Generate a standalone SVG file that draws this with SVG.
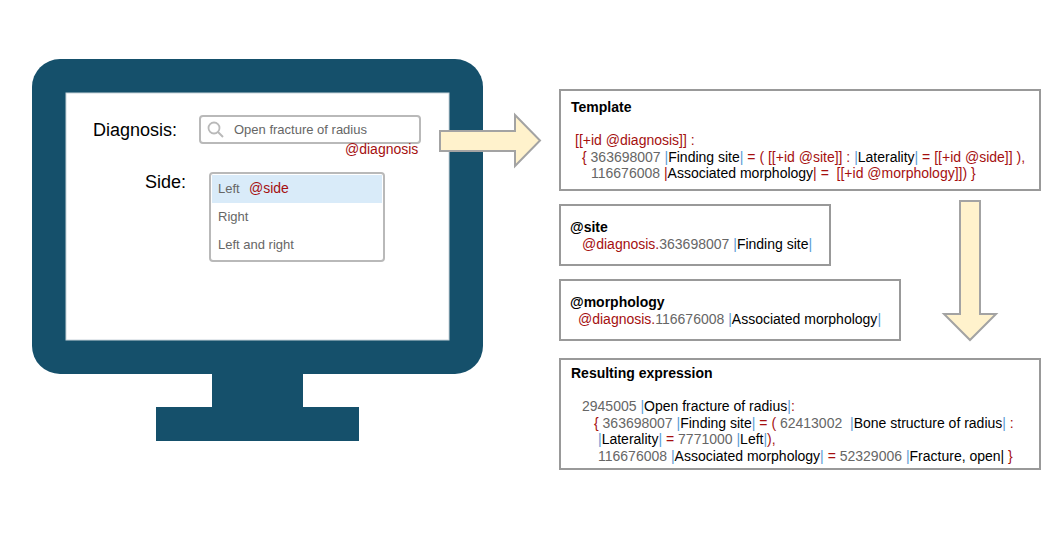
<svg xmlns="http://www.w3.org/2000/svg" width="1060" height="540" viewBox="0 0 1060 540">
<style>
text{font-family:"Liberation Sans",Arial,sans-serif;white-space:pre}
.box{fill:#fff;stroke:#999;stroke-width:2}
.arrow{fill:#fff2cc;stroke:#a3a3a3;stroke-width:2}
.t{font-size:14px;fill:#000}
.h{font-size:14px;font-weight:bold;fill:#000}
.r{fill:#a50f0f}
.g{fill:#666}
.b{fill:#5b9bd5}
.k{fill:#000}
.ui{font-size:13px;fill:#666}
.lab{font-size:18px;fill:#000}
.mon{fill:#15506b}
</style>
<rect width="1060" height="540" fill="#fff"/>
<g id="monitor">
<rect class="mon" x="212" y="370" width="91" height="40"/>
<rect class="mon" x="156" y="407" width="203" height="34"/>
<rect class="mon" x="32" y="59" width="451" height="315" rx="28"/>
<rect x="66" y="93" width="383" height="247" fill="#fff" stroke="#c8d3da" stroke-width="1"/>
</g>
<g id="diagnosis-field">
<text class="lab" x="93" y="136">Diagnosis:</text>
<rect x="200" y="116" width="220" height="27" rx="3" fill="#fff" stroke="#b9b9b9" stroke-width="2"/>
<circle cx="214" cy="128" r="5.5" fill="none" stroke="#b9b9b9" stroke-width="1.8"/>
<line x1="218" y1="132" x2="223" y2="137" stroke="#b9b9b9" stroke-width="2"/>
<text class="ui" x="234" y="134">Open fracture of radius</text>
<text class="t r" x="345" y="154">@diagnosis</text>
</g>
<g id="side-field">
<text class="lab" x="145" y="188">Side:</text>
<rect x="210" y="173" width="174" height="88" rx="3" fill="#fff" stroke="#b9b9b9" stroke-width="2"/>
<rect x="212" y="175" width="170" height="28" fill="#d9ebf9"/>
<text class="ui" x="218" y="193">Left</text>
<text class="t r" x="249" y="193">@side</text>
<text class="ui" x="218" y="221">Right</text>
<text class="ui" x="218" y="249">Left and right</text>
</g>
<g id="template">
<rect class="box" x="560" y="90" width="480" height="100"/>
<text class="h" x="571" y="112">Template</text>
<text class="t r" x="575" y="145">[[+id @diagnosis]] :</text>
<text class="t r" x="582" y="162">{ <tspan class="g">363698007 </tspan><tspan class="b">|</tspan><tspan class="k">Finding site</tspan><tspan class="b">|</tspan> = ( [[+id @site]] : <tspan class="b">|</tspan><tspan class="k">Laterality</tspan><tspan class="b">|</tspan> = [[+id @side]] ),</text>
<text class="t r" x="591" y="178"><tspan class="g">116676008 </tspan>|<tspan class="k">Associated morphology</tspan>| =  [[+id @morphology]]) }</text>
</g>
<g id="site">
<rect class="box" x="560" y="205" width="270" height="60"/>
<text class="h" x="570" y="232">@site</text>
<text class="t r" x="582" y="249">@diagnosis.<tspan class="g">363698007 </tspan><tspan class="b">|</tspan><tspan class="k">Finding site</tspan><tspan class="b">|</tspan></text>
</g>
<g id="morphology">
<rect class="box" x="560" y="280" width="340" height="60"/>
<text class="h" x="570" y="307">@morphology</text>
<text class="t r" x="578" y="324">@diagnosis.<tspan class="g">116676008 </tspan><tspan class="b">|</tspan><tspan class="k">Associated morphology</tspan><tspan class="b">|</tspan></text>
</g>
<g id="result">
<rect class="box" x="560" y="359" width="480" height="110"/>
<text class="h" x="571" y="378">Resulting expression</text>
<text class="t g" x="582" y="411">2945005 <tspan class="b">|</tspan><tspan class="k">Open fracture of radius</tspan><tspan class="b">|</tspan><tspan class="r">:</tspan></text>
<text class="t r" x="594" y="428">{ <tspan class="g">363698007 </tspan><tspan class="b">|</tspan><tspan class="k">Finding site</tspan><tspan class="b">|</tspan> = ( <tspan class="g">62413002  </tspan><tspan class="b">|</tspan><tspan class="k">Bone structure of radius</tspan><tspan class="b">|</tspan> :</text>
<text class="t r" x="598" y="444"><tspan class="b">|</tspan><tspan class="k">Laterality</tspan><tspan class="b">|</tspan> = <tspan class="g">7771000 </tspan><tspan class="b">|</tspan><tspan class="k">Left</tspan><tspan class="b">|</tspan>),</text>
<text class="t r" x="598" y="461"><tspan class="g">116676008 </tspan><tspan class="b">|</tspan><tspan class="k">Associated morphology</tspan><tspan class="b">|</tspan> = <tspan class="g">52329006 </tspan><tspan class="b">|</tspan><tspan class="k">Fracture, open|</tspan> }</text>
</g>
<g id="connectors">
<path class="arrow" d="M440 131H515V115L540 140.500L515 166V151H440Z"/>
<path class="arrow" d="M960 201H980V314H996L970 340L944 314H960Z"/>
</g>
</svg>
